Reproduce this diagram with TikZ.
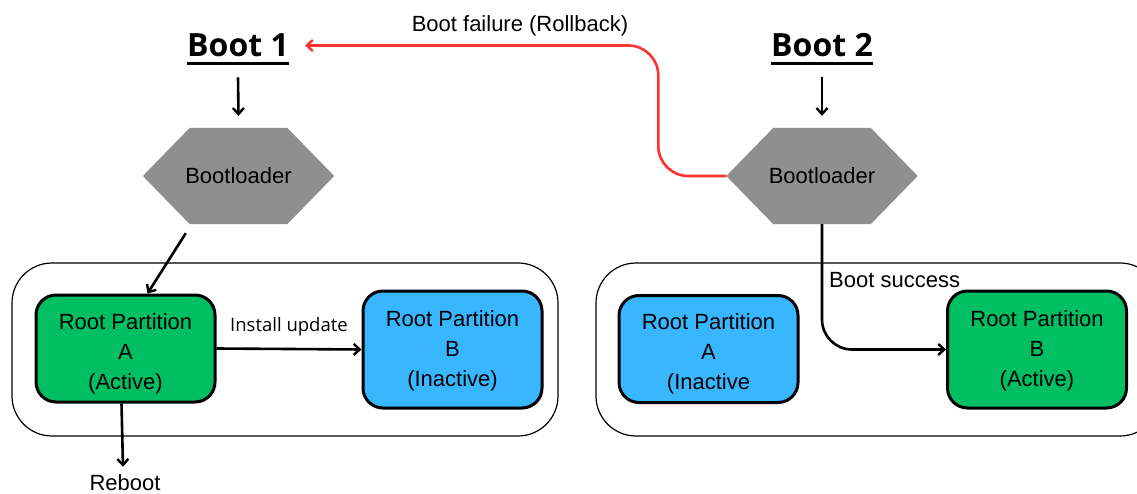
\documentclass[tikz,border=0pt]{standalone}
\usepackage{fontspec}
\setmainfont{Liberation Sans}
\newfontfamily\titlefont{Open Sans}
\usetikzlibrary{arrows.meta,backgrounds}

\definecolor{activegreen}{HTML}{00BF63}
\definecolor{idleblue}{HTML}{38B6FF}
\definecolor{loadergray}{HTML}{8F8F8F}
\definecolor{failred}{HTML}{FF3131}

\tikzset{
  title/.style={font=\titlefont\bfseries\fontsize{32}{36}\selectfont, inner sep=0pt},
  loader/.style={minimum width=191, minimum height=96, inner sep=0pt,
                 font=\fontsize{22}{26}\selectfont},
  part/.style={draw, line width=3, rounded corners=20, minimum width=179,
               minimum height=107, inner sep=0pt},
  parttext/.style={align=center, inner sep=0pt, font=\fontsize{22}{30}\selectfont},
  group/.style={draw, line width=1.2, rounded corners=40},
  conn/.style={line width=2.6, -{Straight Barb[length=6, width=11, line width=2.4]}},
  lbl/.style={font=\fontsize{22}{26}\selectfont, inner sep=0pt},
}

\begin{document}
\begin{tikzpicture}[x=1pt, y=-1pt]
\path[use as bounding box] (0,0) rectangle (1137,494);
\clip (0,0) rectangle (1137,494);

% partition groups
\draw[group] (12,263) rectangle (558,436);
\draw[group] (596,263) rectangle (1160,436);

% titles
\node[title] (t1) at (238,45.5) {Boot 1};
\node[title] (t2) at (822,45.5) {Boot 2};
\draw[line width=3] ([yshift=-6]t1.south west) -- ([yshift=-6]t1.south east);
\draw[line width=3] ([yshift=-6]t2.south west) -- ([yshift=-6]t2.south east);

% bootloaders
\node[loader] (bl1) at (238.5,176) {Bootloader};
\node[loader] (bl2) at (822,176) {Bootloader};
\begin{scope}[on background layer]
  \foreach \b in {bl1,bl2}
    \fill[loadergray] (\b.west) -- ([xshift=47]\b.north west) -- ([xshift=-47]\b.north east)
      -- (\b.east) -- ([xshift=-47]\b.south east) -- ([xshift=47]\b.south west) -- cycle;
\end{scope}

% root partitions
\node[part, fill=activegreen] (a1) at (125.5,348.5) {};
\node[part, fill=idleblue, minimum height=117] (b1) at (452.5,349.5) {};
\node[part, fill=idleblue] (a2) at (708.5,349) {};
\node[part, fill=activegreen, minimum height=117] (b2) at (1037,349.5) {};
\node[parttext] (a1t) at ([yshift=-5]a1.center) {Root Partition\\A\\(Active)};
\node[parttext] (b1t) at ([yshift=-1]b1.center) {Root Partition\\B\\(Inactive)};
\node[parttext] (a2t) at ([yshift=-5]a2.center) {Root Partition\\A\\(Inactive};
\node[parttext] (b2t) at ([yshift=-1]b2.center) {Root Partition\\B\\(Active)};

% labels
\node[lbl] (fail) at (520,26) {Boot failure (Rollback)};
\node[lbl, anchor=west] (ok) at (829,280) {Boot success};
\node[font=\titlefont\fontsize{18.5}{22}\selectfont, inner sep=0pt] (inst) at (289,327) {Install update};
\node[lbl] (reboot) at (125,483) {Reboot};

% connectors
\draw[conn] ([yshift=-20]t1.south) -- ([yshift=12]bl1.north);
\draw[conn] ([yshift=-20]t2.south) -- ([yshift=12]bl2.north);
\draw[conn] ([shift={(43,9)}]bl1.south west) -- ([xshift=22]a1.north);
\draw[conn] (a1.east) -- (b1.west);
\draw[conn] ([xshift=-4]a1.south) -- ([shift={(-2,-8)}]reboot.north);
\draw[conn, rounded corners=30] (bl2.south) |- (b2.west);
\draw[conn, failred, rounded corners=30] (bl2.west) -- ++(-68,0) |- ([xshift=16]t1.east);
\end{tikzpicture}
\end{document}
